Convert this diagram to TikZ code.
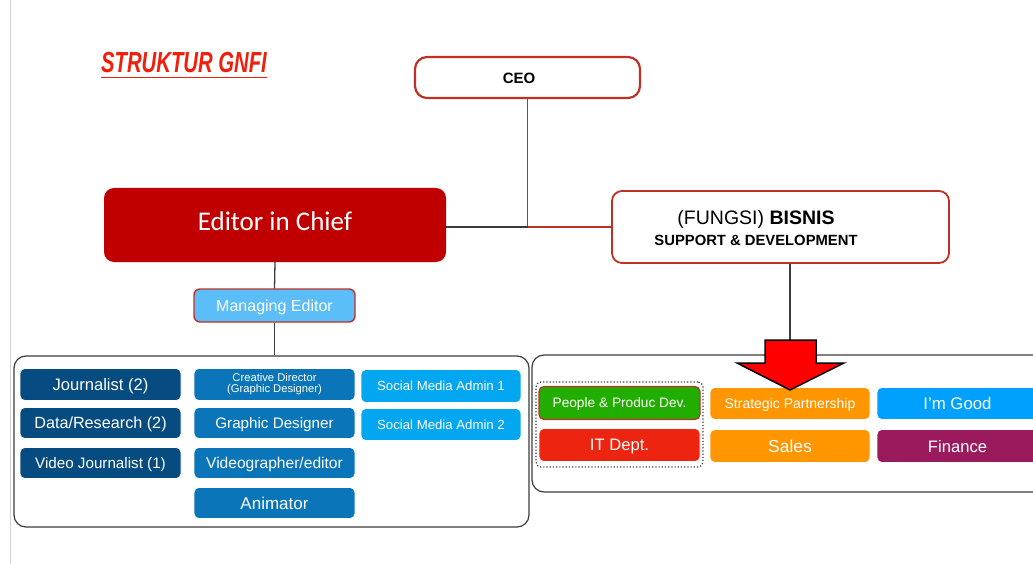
\documentclass[tikz,border=0pt]{standalone}
\usepackage{fontspec}
\setmainfont{Liberation Sans}
\newfontfamily\carlito{Carlito}
\usetikzlibrary{calc}

\definecolor{frameRed}{RGB}{192,48,36}
\definecolor{chiefRed}{RGB}{192,0,0}
\definecolor{mgrBlue}{RGB}{91,190,248}
\definecolor{navyTile}{RGB}{6,76,128}
\definecolor{midTile}{RGB}{10,118,185}
\definecolor{skyTile}{RGB}{3,166,240}
\definecolor{greenTile}{RGB}{34,174,0}
\definecolor{redTile}{RGB}{236,36,16}
\definecolor{orangeTile}{RGB}{255,150,0}
\definecolor{cyanTile}{RGB}{0,161,254}
\definecolor{plumTile}{RGB}{154,26,93}
\definecolor{titleRed}{RGB}{240,30,10}
\definecolor{lineGray}{RGB}{60,60,60}

\newcommand{\fs}[1]{\fontsize{#1}{#1}\selectfont}

\begin{document}
\begin{tikzpicture}[x=1pt,y=-1pt,
  tilebase/.style={rectangle, rounded corners=5pt, inner sep=0pt, text=white,
    align=center, minimum width=161pt, minimum height=32pt,
    draw=white, line width=0.6pt},
  tile/.style={tilebase, text depth=0pt},
  head/.style={rectangle, rounded corners=12pt, inner sep=0pt, fill=white,
    draw=frameRed, line width=2.2pt, align=center},
  group/.style={rectangle, rounded corners=12pt, inner sep=0pt,
    draw=lineGray, line width=1.2pt},
  link/.style={line width=1.3pt, draw=lineGray},
  redlink/.style={line width=1.6pt, draw=frameRed}]

\useasboundingbox (0,0) rectangle (1033,564);
\clip (0,0) rectangle (1033,564);
\fill[white] (0,0) rectangle (1033,564);

% page edge
\draw[gray!35, line width=1pt] (10.5,0) -- (10.5,564);

% title
\node[text=titleRed, inner sep=0pt, font=\fs{29}\bfseries\itshape] (title) at (184,63)
  {\scalebox{0.7}[1]{STRUKTUR GNFI}};
\draw[titleRed, line width=1.8pt] ([yshift=-4pt]title.south west) -- ([yshift=-4pt]title.south east);

% top level
\node[head, minimum width=225pt, minimum height=41pt] (ceo) at (527.5,77.5) {};
\node[inner sep=0pt, font=\fs{15}\bfseries, text depth=0pt] (ceolabel) at (519,78) {CEO};
\node[rectangle, rounded corners=10pt, inner sep=0pt, fill=chiefRed,
  minimum width=342pt, minimum height=74pt] (chief) at (275,225) {};
\node[inner sep=0pt, text=white, font=\carlito\fs{27}, text depth=0pt] (chieflabel) at (275,221.5) {Editor in Chief};
\node[head, rounded corners=10pt, line width=1.8pt, minimum width=337pt, minimum height=72pt] (bisnis) at (780.5,227) {};
\node[inner sep=0pt, align=center] (bisnislabel) at (756,228)
  {{\fs{19.5}(FUNGSI) \textbf{BISNIS}}\\[5pt]{\fs{14.8}\bfseries SUPPORT \& DEVELOPMENT}};
\node[rectangle, rounded corners=6pt, inner sep=0pt, fill=mgrBlue, draw=frameRed, line width=1.4pt,
  text=white, minimum width=161pt, minimum height=33pt, font=\fs{16},
  text depth=0pt] (manager) at (274.5,305.5) {Managing Editor};

% group frames
\node[group, minimum width=515pt, minimum height=171pt] (leftbox) at (271.5,441.5) {};
\node[group, minimum width=513pt, minimum height=137pt] (rightbox) at (788.5,423.5) {};
\node[rectangle, rounded corners=5pt, inner sep=0pt, draw=lineGray, dotted, line width=1.2pt,
  minimum width=167pt, minimum height=85pt] (devgroup) at (619.5,424.5) {};

% connectors
\coordinate (junction) at (ceo.south |- bisnis.west);
\draw[redlink] (ceo.south) -- (junction);
\draw[link] (chief.east |- junction) -- (junction);
\draw[redlink] (junction) -- (bisnis.west);
\draw[link] (chief.south) -- (manager.north);
\draw[link] (manager.south) -- (manager.south |- leftbox.north);
\coordinate (arrowtip) at (790,390);
\draw[link] (arrowtip |- bisnis.south) -- (arrowtip |- rightbox.north);

% editorial team
\node[tile, fill=navyTile, font=\fs{16.6}] (journalist) at (100.5,384.5) {Journalist (2)};
\node[tile, fill=navyTile, minimum height=31pt, font=\fs{16.2}] (research) at (100.5,423) {Data/Research (2)};
\node[tile, fill=navyTile, minimum height=31pt, font=\fs{15.2}] (videojour) at (100.5,463) {Video Journalist (1)};

\node[tilebase, fill=midTile, font=\fs{11.2}] (creative) at (274.5,384.5) {Creative Director\\(Graphic Designer)};
\node[tile, fill=midTile, minimum height=31pt, font=\fs{15.2}] (graphic) at (274.5,423) {Graphic Designer};
\node[tile, fill=midTile, minimum height=31pt, font=\fs{15.6}] (videographer) at (274.5,463) {Videographer/editor};
\node[tile, fill=midTile, minimum height=31pt, font=\fs{17}] (animator) at (274.5,503) {Animator};

\node[tile, fill=skyTile, minimum width=160pt, minimum height=33pt, font=\fs{13.2}] (sma1) at (441,386) {Social Media Admin 1};
\node[tile, fill=skyTile, minimum width=160pt, minimum height=32pt, font=\fs{13.2}] (sma2) at (441,424.5) {Social Media Admin 2};

% business team
\node[tile, fill=greenTile, draw=frameRed, line width=1.2pt, minimum height=33pt, font=\fs{13.7}] (people) at (619.5,403) {People \& Produc Dev.};
\node[tile, fill=redTile, minimum height=33pt, font=\fs{16.6}] (itdept) at (619.5,445) {IT Dept.};
\node[tile, fill=orangeTile, minimum width=160pt, minimum height=32pt, font=\fs{14}] (partner) at (790,403.5) {Strategic Partnership};
\node[tile, fill=orangeTile, minimum width=160pt, minimum height=33pt, font=\fs{17.4}] (sales) at (790,446) {Sales};
\node[tile, fill=cyanTile, minimum height=32pt, font=\fs{16.8}] (imgood) at (957.5,403.5) {I’m Good};
\node[tile, fill=plumTile, minimum height=33pt, font=\fs{16.6}] (finance) at (957.5,446) {Finance};

% highlight arrow
\draw[fill=red, draw=black, line width=1.5pt, line join=miter, shift={(arrowtip)}]
  (-25,-50) -- (26,-50) -- (26,-27) -- (54,-27) -- (0,0) -- (-53,-27) -- (-25,-27) -- cycle;

\end{tikzpicture}
\end{document}
